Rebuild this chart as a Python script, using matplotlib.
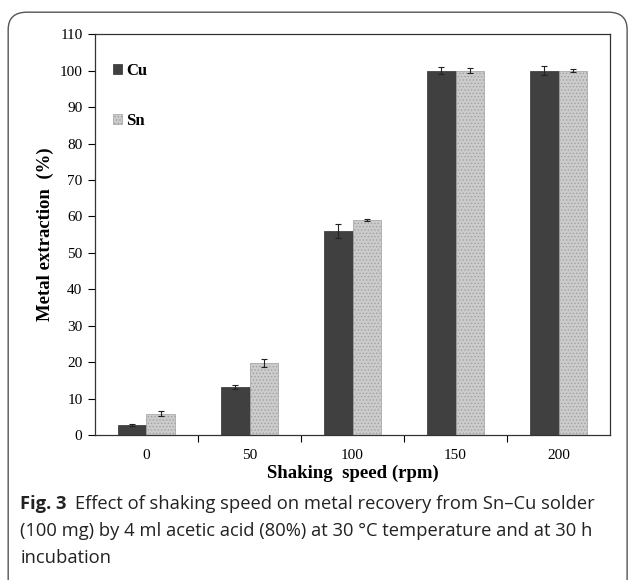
import matplotlib.pyplot as plt
import numpy as np
from matplotlib.patches import FancyBboxPatch

# data
speeds = ['0', '50', '100', '150', '200']
cu = [2.8, 13.2, 56.0, 100.0, 100.0]
cu_err = [0.2, 0.5, 2.0, 1.0, 1.3]
sn = [5.8, 19.8, 59.0, 100.0, 100.0]
sn_err = [0.7, 1.0, 0.3, 0.7, 0.5]

plt.rcParams['hatch.linewidth'] = 0.6
serif = ['Liberation Serif', 'DejaVu Serif']

fig = plt.figure(figsize=(6.29, 5.8), dpi=100)

# rounded frame around figure + caption
frame = FancyBboxPatch((0.013, -0.05), 0.984, 1.029, boxstyle='round,pad=0,rounding_size=0.03',
                       transform=fig.transFigure, fill=False, edgecolor='#555555', lw=1.0)
fig.patches.append(frame)

ax = fig.add_axes([0.151, 0.25, 0.819, 0.691])
x = np.arange(len(speeds))
w = 0.28
ax.bar(x - w/2, cu, w, color='#404040', edgecolor='#303030', lw=0.5, label='Cu',
       yerr=cu_err, error_kw=dict(ecolor='#222222', elinewidth=0.8, capsize=2.5, capthick=0.8))
ax.bar(x + w/2, sn, w, color='#cccccc', edgecolor='#a0a0a0', hatch='.....', lw=0.5, label='Sn',
       yerr=sn_err, error_kw=dict(ecolor='#222222', elinewidth=0.8, capsize=2.5, capthick=0.8))

ax.set_xlim(-0.5, 4.5)
ax.set_ylim(0, 110)
ax.set_yticks(range(0, 111, 10))
ax.set_xticks(x)
ax.set_xticklabels(speeds)
ax.set_xticks(np.arange(0.5, 4.5, 1), minor=True)
ax.tick_params(axis='x', which='major', length=0, pad=10)
ax.tick_params(axis='x', which='minor', length=5, direction='out', width=0.8)
ax.tick_params(axis='y', length=5, direction='out', width=0.8, pad=4)
for lab in ax.get_xticklabels() + ax.get_yticklabels():
    lab.set_family(serif)
    lab.set_fontsize(11)

for s in ax.spines.values():
    s.set_linewidth(0.9)
    s.set_color('#333333')

ax.set_ylabel('Metal extraction  (%)', family=serif, fontsize=13.5, fontweight='bold', labelpad=4)
ax.set_xlabel('Shaking  speed (rpm)', family=serif, fontsize=13.5, fontweight='bold', labelpad=2)

leg = ax.legend(loc='upper left', bbox_to_anchor=(0.005, 0.965), frameon=False,
                handlelength=0.55, handleheight=0.55, handletextpad=0.25, labelspacing=2.0,
                prop=dict(family=serif, size=12, weight='bold'))

# caption
cap = dict(fontsize=13.2, family='Open Sans', va='baseline', color='#222222')
fig.text(0.032, 0.122, 'Fig. 3', fontweight='bold', **cap)
fig.text(0.119, 0.122, 'Effect of shaking speed on metal recovery from Sn\u2013Cu solder', **cap)
fig.text(0.032, 0.075, '(100 mg) by 4 ml acetic acid (80%) at 30 \u00b0C temperature and at 30 h', **cap)
fig.text(0.032, 0.030, 'incubation', **cap)

fig.savefig('out.png', dpi=100)
